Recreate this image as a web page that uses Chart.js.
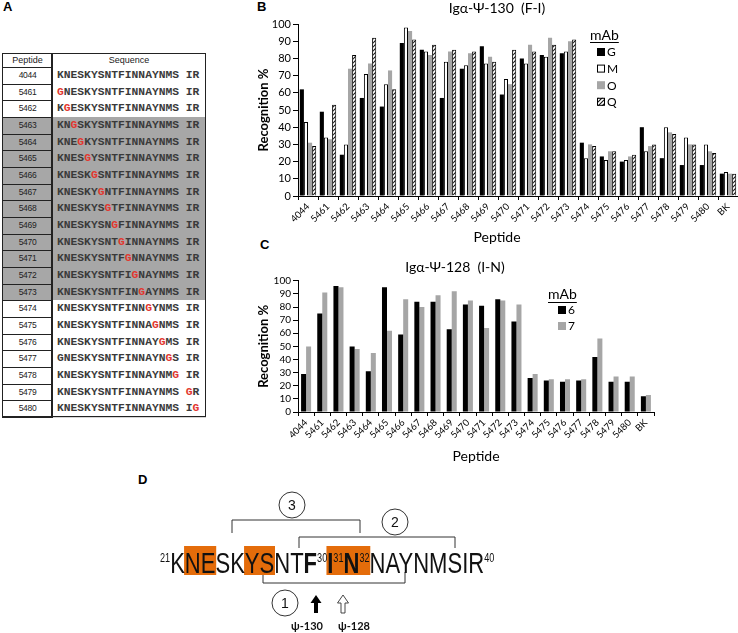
<!DOCTYPE html>
<html><head><meta charset="utf-8">
<script src="https://cdn.jsdelivr.net/npm/chart.js@4/dist/chart.umd.min.js"></script>
<style>
body{margin:0;width:738px;height:633px;position:relative;background:#fff;overflow:hidden;font-family:"Liberation Sans",Arial,sans-serif;color:#000}
.lbl{position:absolute;font-weight:bold;font-size:13px;line-height:14px}
canvas{position:absolute}
.cell{position:absolute;box-sizing:border-box}
.pep{font-size:8.5px;letter-spacing:-0.3px;color:#222;text-align:center;border:1px solid #222}
.seq{font-family:"Liberation Mono",monospace;font-size:11.3px;font-weight:bold;color:#3a3a3a;padding-left:5px;white-space:pre;border-bottom:1px solid #cfcfcf}
.red{color:#e2372f}
svg{position:absolute;left:0;top:0}
</style></head>
<body>
<div class="lbl" style="left:3px;top:0px">A</div>
<div class="lbl" style="left:257px;top:0px">B</div>
<div class="lbl" style="left:260px;top:238px">C</div>
<div class="lbl" style="left:138px;top:473px">D</div>
<div id="tableA"></div>
<canvas id="cb" width="482" height="246" style="left:256px;top:0px"></canvas>
<canvas id="cc" width="428" height="206" style="left:256px;top:259px"></canvas>
<svg width="738" height="633" viewBox="0 0 738 633">
  <g fill="none" stroke="#333" stroke-width="1">
    <path d="M232 533 V520 H360 V533"/>
    <path d="M299 548 V537 H455 V548"/>
    <path d="M263 572 V583 H405 V572"/>
    <circle cx="292" cy="505" r="13"/>
    <circle cx="395" cy="522" r="13"/>
    <circle cx="285" cy="603" r="13"/>
  </g>
  <g font-family="Liberation Sans" font-size="14" text-anchor="middle" fill="#111">
    <text x="292" y="510">3</text>
    <text x="395" y="527">2</text>
    <text x="285" y="608">1</text>
  </g>
  <g id="seqg" transform="translate(160,573) scale(0.76,1)">
    <g id="boxes"></g>
    <text id="seqtext" x="0" y="0" font-family="Liberation Sans" font-size="29" fill="#111"><tspan font-size="12" dy="-11">21</tspan><tspan dy="11">KNESKYSNT</tspan><tspan font-weight="bold">F</tspan><tspan font-size="12" dy="-11">30</tspan><tspan font-weight="bold" dy="11">I</tspan><tspan font-size="12" dy="-11">31</tspan><tspan font-weight="bold" dy="11">N</tspan><tspan font-size="12" dy="-11">32</tspan><tspan dy="11">NAYNMSIR</tspan><tspan font-size="12" dy="-11">40</tspan></text>
  </g>
  <path d="M316 595 L310.5 603 L314 603 L314 613 L318 613 L318 603 L321.5 603 Z" fill="#000"/>
  <path d="M343 595 L337.5 603 L341 603 L341 613 L345 613 L345 603 L348.5 603 Z" fill="#fff" stroke="#333" stroke-width="0.9"/>
  <g font-family="Lato" font-weight="bold" font-size="11" text-anchor="middle" fill="#111">
    <text x="307" y="630">ψ-130</text>
    <text x="354" y="630">ψ-128</text>
  </g>
</svg>
<script>
// ---------- data ----------
const peptides = ['4044','5461','5462','5463','5464','5465','5466','5467','5468','5469','5470','5471','5472','5473','5474','5475','5476','5477','5478','5479','5480','BK'];
const mabG = [62,49,24,57,52,89,85,57,74,87,59,80,82,83,31,23,20,40,22,18,18,13];
const mabM = [43,34,30,71,65,98,84,78,76,77,68,77,81,84,22,21,21,26,40,34,30,14];
const mabO = [31,33,74,77,73,96,82,84,83,81,65,88,92,90,30,26,23,29,37,30,26,13];
const mabQ = [29,53,82,92,62,91,88,85,84,78,85,84,88,91,29,26,24,30,36,30,25,13];
const mab6 = [29,75,96,50,31,95,59,84,84,63,82,81,86,69,26,24,23,24,42,23,23,12];
const mab7 = [50,91,95,48,45,62,86,80,89,92,85,64,85,82,29,25,25,25,56,27,27,13];
const tablePeptides = ['4044','5461','5462','5463','5464','5465','5466','5467','5468','5469','5470','5471','5472','5473','5474','5475','5476','5477','5478','5479','5480'];
const tableSeqs = ['KNESKYSNTFINNAYNMSIR','GNESKYSNTFINNAYNMSIR','KGESKYSNTFINNAYNMSIR','KNGSKYSNTFINNAYNMSIR','KNEGKYSNTFINNAYNMSIR','KNESGYSNTFINNAYNMSIR','KNESKGSNTFINNAYNMSIR','KNESKYGNTFINNAYNMSIR','KNESKYSGTFINNAYNMSIR','KNESKYSNGFINNAYNMSIR','KNESKYSNTGINNAYNMSIR','KNESKYSNTFGNNAYNMSIR','KNESKYSNTFIGNAYNMSIR','KNESKYSNTFINGAYNMSIR','KNESKYSNTFINNGYNMSIR','KNESKYSNTFINNAGNMSIR','KNESKYSNTFINNAYGMSIR','GNESKYSNTFINNAYNGSIR','KNESKYSNTFINNAYNMGIR','KNESKYSNTFINNAYNMSGR','KNESKYSNTFINNAYNMSIG'];
const tableMut = [-1,0,1,2,3,4,5,6,7,8,9,10,11,12,13,14,15,16,17,18,19];
const shadedRows = ['5463','5464','5465','5466','5467','5468','5469','5470','5471','5472','5473'];

// ---------- table A ----------
(function(){
  const root = document.getElementById('tableA');
  const top0 = 53, hh = 14, rh = 16.667, L = 2, M = 52, R = 206;
  let html = '';
  html += `<div class="cell pep" style="left:${L}px;top:${top0}px;width:${M-L+1}px;height:${hh+1}px;font-size:9px;line-height:${hh-1}px;letter-spacing:0">Peptide</div>`;
  html += `<div class="cell" style="left:${M}px;top:${top0}px;width:${R-M}px;height:${hh+1}px;font-size:9px;line-height:${hh-1}px;text-align:center;border:1px solid #222;color:#222">Sequence</div>`;
  tablePeptides.forEach((p,i)=>{
    const y = top0 + hh + i*rh;
    const shaded = shadedRows.includes(p);
    const bg = shaded ? '#a7a7a7' : '#fff';
    const s = tableSeqs[i];
    let txt = '';
    for (let k=0;k<s.length;k++){
      if (k===18) txt += ' ';
      txt += (k===tableMut[i]) ? `<span class="red">${s[k]}</span>` : s[k];
    }
    html += `<div class="cell seq" style="left:${M}px;top:${y}px;width:${R-M}px;height:${rh+1}px;line-height:${rh}px;background:${bg};border-bottom-color:${shaded?'#bdbdbd':'#d5d5d5'}">${txt}</div>`;
    html += `<div class="cell pep" style="left:${L}px;top:${y}px;width:${M-L+1}px;height:${rh+1}px;line-height:${rh-1}px;background:${bg}">${p}</div>`;
  });
  html += `<div class="cell" style="left:${M-1}px;top:${top0}px;width:2px;height:${416.7-top0}px;background:#222"></div>`;
  html += `<div class="cell" style="left:${L}px;top:${top0}px;width:${R-L}px;height:${416.7-top0}px;border:1px solid #222"></div>`;
  root.innerHTML = html;
})();

// ---------- panel D boxes ----------
(function(){
  const t = document.getElementById('seqtext');
  const g = document.getElementById('boxes');
  const spans = [[3,4],[7,8],[14,19]];
  spans.forEach(([a,b])=>{
    const x0 = t.getStartPositionOfChar(a).x - 1;
    const x1 = t.getEndPositionOfChar(b).x + 1;
    const r = document.createElementNS('http://www.w3.org/2000/svg','rect');
    r.setAttribute('x', x0); r.setAttribute('y', -27);
    r.setAttribute('width', x1-x0); r.setAttribute('height', 29);
    r.setAttribute('fill', '#e46c0a');
    g.appendChild(r);
  });
})();

// ---------- charts ----------
Chart.defaults.font.family = 'Lato, "Open Sans", sans-serif';
Chart.defaults.color = '#000';

function hatchPattern(){
  const c = document.createElement('canvas'); c.width = 4; c.height = 4;
  const x = c.getContext('2d');
  x.fillStyle = '#fff'; x.fillRect(0,0,4,4);
  x.strokeStyle = '#111'; x.lineWidth = 1.1;
  x.beginPath();
  x.moveTo(0,4); x.lineTo(4,0);
  x.moveTo(-1,1); x.lineTo(1,-1);
  x.moveTo(3,5); x.lineTo(5,3);
  x.stroke();
  return x.createPattern(c,'repeat');
}

const mabLegend = {
  id:'mabLegend',
  afterDatasetsDraw(chart, args, o){
    const ctx = chart.ctx; ctx.save();
    ctx.textBaseline = 'middle'; ctx.textAlign = 'left'; ctx.fillStyle = '#000';
    ctx.font = o.titleFont;
    ctx.fillText('mAb', o.x, o.y);
    const w = ctx.measureText('mAb').width;
    ctx.fillRect(o.x, o.uy, w, 1);
    ctx.font = o.itemFont;
    chart.data.datasets.forEach((ds,i)=>{
      const cy = o.y0 + i*o.dy;
      ctx.fillStyle = ds.backgroundColor;
      ctx.fillRect(o.sx, cy - o.s/2, o.s, o.s);
      if (ds.borderWidth){ ctx.strokeStyle = ds.borderColor; ctx.lineWidth = 1; ctx.strokeRect(o.sx+0.5, cy-o.s/2+0.5, o.s-1, o.s-1); }
      ctx.fillStyle = '#000';
      ctx.fillText(ds.label, o.sx + o.s + 2, cy + 0.5);
    });
    ctx.restore();
  }
};
const extraText = {
  id:'extraText',
  afterDraw(chart, args, o){
    if (!o.items) return;
    const ctx = chart.ctx; ctx.save();
    ctx.textAlign = 'center'; ctx.textBaseline = 'middle'; ctx.fillStyle = '#000';
    o.items.forEach(it=>{ ctx.font = it.font; ctx.fillText(it.text, it.x, it.y); });
    ctx.restore();
  }
};

function yScale(tickSize){
  return {
    min:0, max:100,
    ticks:{stepSize:10, autoSkip:false, font:{size:tickSize}, color:'#000', padding:2},
    grid:{display:true, drawOnChartArea:false, drawTicks:true, tickLength:5, color:'#000'},
    border:{display:true, color:'#000', width:1},
    title:{display:true, text:'Recognition %', font:{size:13, weight:'bold'}, color:'#000', padding:0},
    afterFit(s){ s.width = 42; s.paddingTop = 0; s.paddingBottom = 0; }
  };
}
function xScale(h, title){
  return {
    ticks:{autoSkip:false, minRotation:45, maxRotation:45, font:{size:9.5}, color:'#000', padding:1},
    grid:{display:true, drawOnChartArea:false, drawTicks:true, tickLength:4, color:'#000', offset:true},
    border:{display:true, color:'#000', width:1},
    title: title,
    afterFit(s){ s.height = h; s.paddingLeft = 0; s.paddingRight = 0; }
  };
}

new Chart(document.getElementById('cb'), {
  type:'bar',
  data:{
    labels: peptides,
    datasets:[
      {label:'G', data:mabG, backgroundColor:'#000', borderWidth:0},
      {label:'M', data:mabM, backgroundColor:'#fff', borderColor:'#000', borderWidth:1},
      {label:'O', data:mabO, backgroundColor:'#a6a6a6', borderWidth:0},
      {label:'Q', data:mabQ, backgroundColor:hatchPattern(), borderColor:'#000', borderWidth:1}
    ]
  },
  options:{
    responsive:false, animation:false, devicePixelRatio:1,
    datasets:{bar:{barPercentage:1.0, categoryPercentage:0.82}},
    layout:{padding:{left:0,right:0,top:0,bottom:0}},
    scales:{ x:xScale(50, {display:false}), y:yScale(11) },
    plugins:{
      legend:{display:false}, tooltip:{enabled:false},
      title:{display:true, text:'Igα-Ψ-130  (F-I)', font:{size:14, weight:'normal'}, color:'#000', padding:{top:0,bottom:7.2}},
      mabLegend:{titleFont:'14px Lato', itemFont:'12px Lato', x:334, y:35, uy:42, sx:341, s:8, y0:52, dy:16.6},
      extraText:{items:[{text:'Peptide', x:241, y:237, font:'14px Lato'}]}
    }
  },
  plugins:[mabLegend, extraText]
});

new Chart(document.getElementById('cc'), {
  type:'bar',
  data:{
    labels: peptides,
    datasets:[
      {label:'6', data:mab6, backgroundColor:'#000', borderWidth:0},
      {label:'7', data:mab7, backgroundColor:'#a6a6a6', borderWidth:0}
    ]
  },
  options:{
    responsive:false, animation:false, devicePixelRatio:1,
    datasets:{bar:{barPercentage:1.0, categoryPercentage:0.62}},
    layout:{padding:{left:0,right:30,top:0,bottom:0}},
    scales:{ x:xScale(53, {display:true, text:'Peptide', font:{size:14}, color:'#000', padding:0}), y:yScale(10) },
    plugins:{
      legend:{display:false}, tooltip:{enabled:false},
      title:{display:true, text:'Igα-Ψ-128  (I-N)', font:{size:14, weight:'normal'}, color:'#000', padding:{top:0,bottom:5}},
      mabLegend:{titleFont:'14px Lato', itemFont:'12px Lato', x:292, y:35, uy:43, sx:302, s:8, y0:51, dy:16},
      extraText:{}
    }
  },
  plugins:[mabLegend, extraText]
});
</script>
</body></html>
